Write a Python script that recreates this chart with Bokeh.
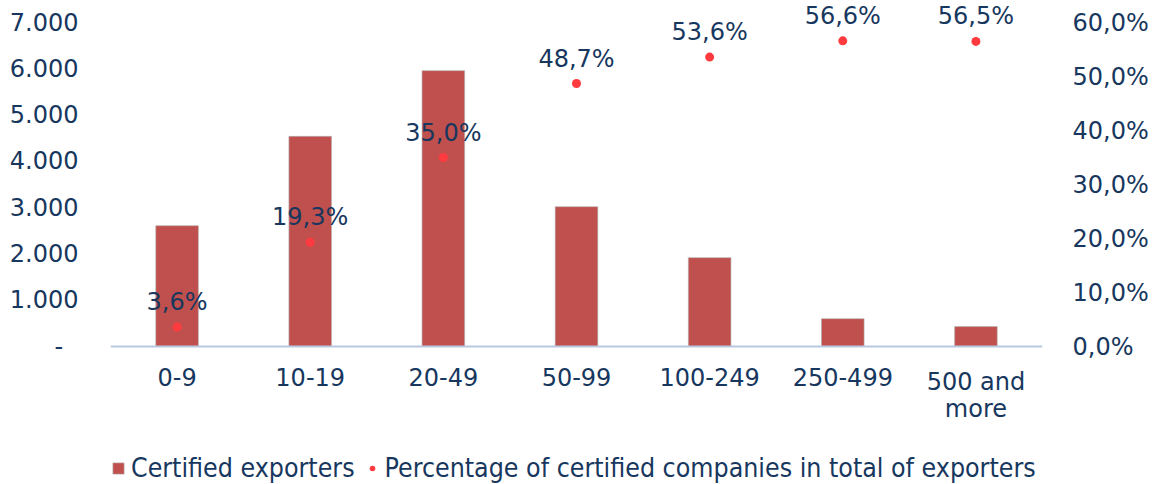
from bokeh.plotting import figure
from bokeh.models import (Range1d, LinearAxis, FixedTicker, Legend, LegendItem,
                          ColumnDataSource, LabelSet, Span)
from bokeh.core.properties import value
from bokeh.embed import file_html
from bokeh.resources import INLINE

categories = ["0-9", "10-19", "20-49", "50-99", "100-249", "250-499", "500 and more"]
cat_line1 = ["0-9", "10-19", "20-49", "50-99", "100-249", "250-499", "500 and"]
cat_line2 = ["", "", "", "", "", "", "more"]
certified_exporters = [2610, 4540, 5960, 3020, 1920, 600, 430]
pct_certified = [0.036, 0.193, 0.350, 0.487, 0.536, 0.566, 0.565]
pct_labels = ["3,6%", "19,3%", "35,0%", "48,7%", "53,6%", "56,6%", "56,5%"]
left_ticks = [0, 1000, 2000, 3000, 4000, 5000, 6000, 7000]
left_tick_labels = ["-\u00a0\u00a0", "1.000", "2.000", "3.000", "4.000", "5.000", "6.000", "7.000"]
right_ticks = [0.0, 0.1, 0.2, 0.3, 0.4, 0.5, 0.6]
right_tick_labels = ["0,0%", "10,0%", "20,0%", "30,0%", "40,0%", "50,0%", "60,0%"]

NAVY = "#17375E"
BAR = "#C0504D"
DOT = "#FF3B3F"
FONT = "DejaVu Sans"
LFONT = "DejaVu Sans Condensed"

# layout (pixels): value axis spans 324px; 22px above it, 138px below it for labels + legend
AX_PX, TOP_PX, BOT_PX = 324, 22, 138
FRAME_H = AX_PX + TOP_PX + BOT_PX
LMAX, PMAX = 7000, 0.6

idx = list(range(len(categories)))
src = ColumnDataSource(dict(x=idx, n=certified_exporters, pct=pct_certified, lab=pct_labels,
                            base=[0] * len(categories), l1=cat_line1, l2=cat_line2))

p = figure(frame_width=932, frame_height=FRAME_H, x_range=Range1d(-0.5, len(categories) - 0.5),
           y_range=Range1d(-LMAX * BOT_PX / AX_PX, LMAX * (AX_PX + TOP_PX) / AX_PX),
           x_axis_location=None, output_backend="svg", toolbar_location=None,
           min_border_left=110, min_border_right=0, min_border_top=0, min_border_bottom=0)
p.extra_y_ranges = {"pct": Range1d(-PMAX * BOT_PX / AX_PX, PMAX * (AX_PX + TOP_PX) / AX_PX)}
p.outline_line_color = None
p.xgrid.grid_line_color = None
p.ygrid.grid_line_color = None

bars = p.vbar(x="x", top="n", width=0.32, source=src, fill_color=BAR, line_color="#B0B0B0", line_width=0.6)
dots = p.scatter(x="x", y="pct", y_range_name="pct", size=9, source=src, fill_color=DOT, line_color=None)
p.add_layout(Span(location=0, dimension="width", line_color="#B8C8E0", line_width=2))

labels = LabelSet(x="x", y="pct", text="lab", y_range_name="pct", source=src, y_offset=25,
                  text_align="center", text_baseline="middle", text_font=value(FONT),
                  text_font_size=value("24px"), text_color=value(NAVY))
p.add_layout(labels)

# category labels (two lines, each centred under its bar)
for col, off in (("l1", -21), ("l2", -48)):
    p.add_layout(LabelSet(x="x", y="base", text=col, source=src, y_offset=off,
                          text_align="center", text_baseline="top", text_font=value(FONT),
                          text_font_size=value("24px"), text_color=value(NAVY)))

# left axis
ya = p.yaxis[0]
ya.ticker = FixedTicker(ticks=left_ticks)
ya.major_label_overrides = {t: l for t, l in zip(left_ticks, left_tick_labels)}
ya.axis_line_color = None
ya.major_tick_line_color = None
ya.major_tick_out = 0
ya.minor_tick_line_color = None
ya.major_label_standoff = 32
ya.major_label_text_font = FONT
ya.major_label_text_font_size = "24px"
ya.major_label_text_color = NAVY

# right axis
ra = LinearAxis(y_range_name="pct")
ra.ticker = FixedTicker(ticks=right_ticks)
ra.major_label_overrides = {t: l for t, l in zip(right_ticks, right_tick_labels)}
ra.axis_line_color = None
ra.major_tick_line_color = None
ra.major_tick_out = 0
ra.minor_tick_line_color = None
ra.major_label_standoff = 30
ra.major_label_text_font = FONT
ra.major_label_text_font_size = "24px"
ra.major_label_text_color = NAVY
p.add_layout(ra, "right")

leg = Legend(items=[LegendItem(label="Certified exporters", renderers=[bars]),
                    LegendItem(label="Percentage of certified companies in total of exporters", renderers=[dots])],
             orientation="horizontal", location="bottom_left", glyph_width=14, glyph_height=14,
             label_standoff=6, spacing=10, padding=0, margin=1, border_line_color=None,
             background_fill_alpha=0, label_text_font=LFONT, label_text_font_size="26.5px",
             label_text_color=NAVY, label_height=20)
p.add_layout(leg, "center")

open("out.html", "w").write(file_html(p, INLINE))
